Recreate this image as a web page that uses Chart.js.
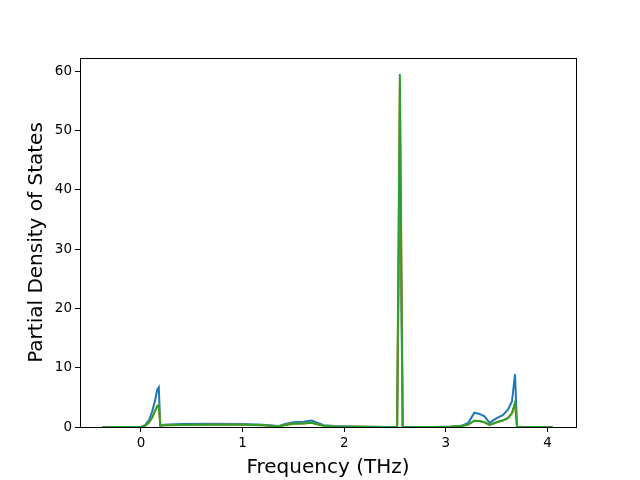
<!DOCTYPE html>
<html>
<head>
<meta charset="utf-8">
<script src="https://cdn.jsdelivr.net/npm/chart.js@4"></script>
<style>
  html, body { margin: 0; padding: 0; background: #fff; }
  #wrap { width: 640px; height: 480px; }
</style>
</head>
<body>
<div id="wrap"><canvas id="pdos" width="640" height="480"></canvas></div>
<script>
/* ── Data ────────────────────────────────────────────────────────────────── */
const freq   = [-0.38, 0.0, 0.04, 0.08, 0.11, 0.14, 0.16, 0.175, 0.19, 0.22, 0.4, 0.7, 1.0, 1.2, 1.35, 1.42, 1.5, 1.6, 1.68, 1.72, 1.8, 1.9, 2.1, 2.4,
                2.52, 2.547, 2.575, 2.9, 3.05, 3.15, 3.22, 3.28, 3.33, 3.38, 3.43, 3.5, 3.56, 3.61, 3.65, 3.68, 3.7, 4.05];
const blue   = [0, 0, 0.3, 1.2, 2.6, 4.6, 6.3, 6.7, 0.3, 0.4, 0.5, 0.55, 0.5, 0.4, 0.15, 0.5, 0.8, 0.9, 1.1, 0.8, 0.3, 0.15, 0.08, 0.02,
                0, 45, 0, 0.02, 0.08, 0.2, 0.7, 2.4, 2.2, 1.8, 0.7, 1.5, 2.0, 2.9, 4.3, 8.9, 0, 0];
const orange = [0, 0, 0.2, 0.8, 1.6, 2.8, 3.5, 3.7, 0.2, 0.3, 0.35, 0.4, 0.4, 0.3, 0.1, 0.35, 0.55, 0.6, 0.7, 0.5, 0.2, 0.1, 0.05, 0.02,
                0, 58, 0, 0.02, 0.06, 0.15, 0.4, 1.05, 1.0, 0.8, 0.35, 0.8, 1.1, 1.5, 2.3, 4.0, 0, 0];
const green  = [0, 0, 0.2, 0.8, 1.6, 2.8, 3.5, 3.7, 0.2, 0.3, 0.35, 0.4, 0.4, 0.3, 0.1, 0.35, 0.55, 0.6, 0.7, 0.5, 0.2, 0.1, 0.05, 0.02,
                0, 59.5, 0, 0.02, 0.06, 0.15, 0.4, 1.05, 1.0, 0.8, 0.35, 0.8, 1.1, 1.5, 2.3, 4.1, 0, 0];
const xTicks = [0, 1, 2, 3, 4];
const yTicks = [0, 10, 20, 30, 40, 50, 60];

const pts = ys => ys.map((y, i) => ({ x: freq[i], y }));

/* ── Frame on all four sides (matplotlib spines) ─────────────────────────── */
const frame = {
  id: 'frame',
  afterDatasetsDraw(chart) {
    const { ctx, chartArea: a } = chart;
    ctx.save();
    ctx.strokeStyle = '#000';
    ctx.lineWidth = 1;
    ctx.strokeRect(a.left + 0.5, a.top + 0.5, a.right - a.left, a.bottom - a.top);
    ctx.restore();
  }
};

const line = (label, data, color, order) => ({
  label, data: pts(data), borderColor: color, backgroundColor: color,
  borderWidth: 2, pointRadius: 0, tension: 0, order
});

new Chart(document.getElementById('pdos'), {
  type: 'line',
  data: {
    datasets: [
      line('s1', blue, '#1f77b4', 2),
      line('s2', orange, '#ff7f0e', 1),
      line('s3', green, '#2ca02c', 0)
    ]
  },
  options: {
    responsive: false,
    animation: false,
    layout: { padding: { top: 58, right: 64, left: 0, bottom: 0 } },
    plugins: { legend: { display: false }, tooltip: { enabled: false } },
    scales: {
      x: {
        type: 'linear', min: -0.6, max: 4.28,
        afterBuildTicks: s => { s.ticks = xTicks.map(v => ({ value: v })); },
        afterFit: s => { s.height = 53; },
        grid: { drawOnChartArea: false, tickLength: 5, color: '#000' },
        border: { color: '#000' },
        ticks: { color: '#000', font: { family: 'DejaVu Sans', size: 13.5 }, padding: 3, maxRotation: 0 },
        title: { display: true, text: 'Frequency (THz)', color: '#000',
                 font: { family: 'DejaVu Sans', size: 20 }, padding: { top: 3, bottom: 0 } }
      },
      y: {
        min: 0, max: 62.2,
        afterBuildTicks: s => { s.ticks = yTicks.map(v => ({ value: v })); },
        afterFit: s => { s.width = 80; },
        grid: { drawOnChartArea: false, tickLength: 5, color: '#000' },
        border: { color: '#000' },
        ticks: { color: '#000', font: { family: 'DejaVu Sans', size: 13.5 }, padding: 3 },
        title: { display: true, text: 'Partial Density of States', color: '#000',
                 font: { family: 'DejaVu Sans', size: 20 }, padding: { top: 25, bottom: 0 } }
      }
    }
  },
  plugins: [frame]
});
</script>
</body>
</html>
